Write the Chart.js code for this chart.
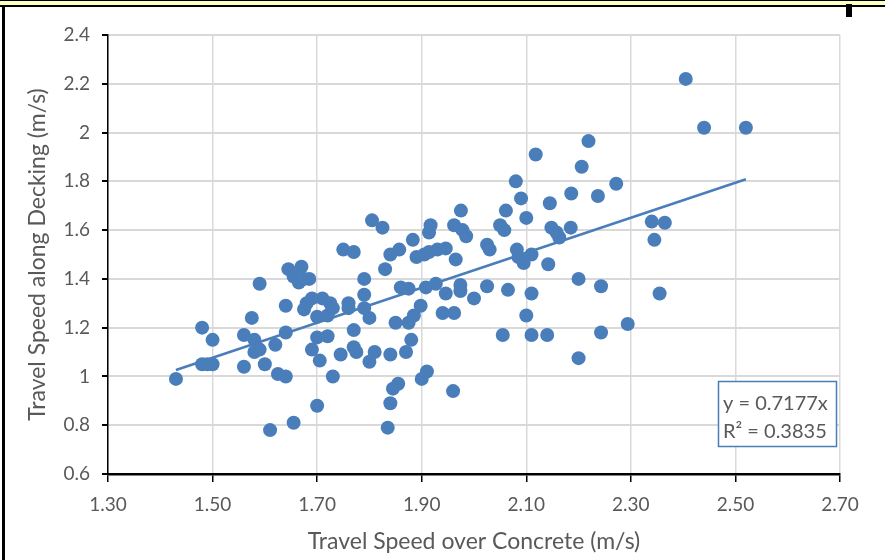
<!DOCTYPE html>
<html>
<head>
<meta charset="utf-8">
<script src="https://cdn.jsdelivr.net/npm/chart.js@4/dist/chart.umd.min.js"></script>
<style>
  html, body { margin: 0; padding: 0; background: #fff; }
  #wrap { position: relative; width: 885px; height: 560px; overflow: hidden; }
  #band { position: absolute; left: 0; top: 0; width: 885px; height: 4px; background: #ffffc8;
          border-top: 1px solid #000; border-bottom: 2px solid #000; }
  #leftbar { position: absolute; left: 2px; top: 5px; width: 3px; height: 555px; background: #000; }
  #mark { position: absolute; left: 846px; top: 4px; width: 6px; height: 13px; background: #000; }
</style>
</head>
<body>
<div id="wrap">
  <canvas id="chart" width="885" height="560"></canvas>
  <div id="band"></div>
  <div id="leftbar"></div>
  <div id="mark"></div>
</div>
<script>
// brzina hoda po betonu (x) i po podnici (y)
const speedConcrete = [
  1.43, 1.48, 1.48, 1.49, 1.50, 1.50, 1.56, 1.56, 1.575, 1.58,
  1.59, 1.58, 1.60, 1.59, 1.61, 1.62, 1.625, 1.64, 1.64, 1.64,
  1.645, 1.655, 1.67, 1.675, 1.665, 1.685, 1.655, 1.675, 1.68, 1.69,
  1.71, 1.725, 1.73, 1.70, 1.72, 1.70, 1.72, 1.69, 1.705, 1.70,
  1.73, 1.745, 1.75, 1.77, 1.76, 1.76, 1.77, 1.77, 1.775, 1.79,
  1.79, 1.79, 1.80, 1.805, 1.80, 1.81, 1.825, 1.83, 1.835, 1.84,
  1.84, 1.84, 1.845, 1.85, 1.855, 1.857, 1.86, 1.875, 1.875, 1.87,
  1.88, 1.883, 1.885, 1.89, 1.898, 1.90, 1.905, 1.91, 1.908, 1.914,
  1.917, 1.914, 1.927, 1.93, 1.94, 1.946, 1.946, 1.96, 1.962, 1.962,
  1.965, 1.974, 1.974, 1.975, 1.978, 1.985, 2.00, 2.025, 2.03, 2.025,
  2.05, 2.058, 2.055, 2.061, 2.065, 2.08, 2.082, 2.085, 2.09, 2.095,
  2.10, 2.10, 2.11, 2.11, 2.11, 2.118, 2.14, 2.142, 2.145, 2.148,
  2.158, 2.163, 2.185, 2.186, 2.20, 2.20, 2.206, 2.219, 2.237, 2.243,
  2.243, 2.272, 2.294, 2.34, 2.345, 2.355, 2.365, 2.405, 2.44, 2.52
];
const speedDecking = [
  0.99, 1.20, 1.05, 1.05, 1.05, 1.15, 1.17, 1.04, 1.24, 1.15,
  1.11, 1.10, 1.05, 1.38, 0.78, 1.13, 1.01, 1.00, 1.18, 1.29,
  1.44, 1.41, 1.45, 1.40, 1.385, 1.40, 0.81, 1.275, 1.30, 1.32,
  1.32, 1.30, 1.28, 1.245, 1.25, 1.16, 1.165, 1.11, 1.065, 0.88,
  1.00, 1.09, 1.52, 1.51, 1.30, 1.28, 1.19, 1.12, 1.10, 1.40,
  1.335, 1.28, 1.24, 1.64, 1.06, 1.10, 1.61, 1.44, 0.79, 0.89,
  1.09, 1.50, 0.95, 1.22, 0.97, 1.52, 1.365, 1.36, 1.22, 1.10,
  1.15, 1.56, 1.25, 1.49, 1.29, 0.99, 1.50, 1.02, 1.365, 1.59,
  1.62, 1.51, 1.38, 1.52, 1.26, 1.525, 1.34, 0.94, 1.26, 1.62,
  1.48, 1.375, 1.35, 1.68, 1.60, 1.575, 1.32, 1.54, 1.52, 1.37,
  1.62, 1.60, 1.17, 1.68, 1.355, 1.80, 1.52, 1.49, 1.73, 1.465,
  1.65, 1.25, 1.50, 1.34, 1.17, 1.91, 1.17, 1.46, 1.71, 1.61,
  1.59, 1.57, 1.61, 1.75, 1.40, 1.075, 1.86, 1.965, 1.74, 1.37,
  1.18, 1.79, 1.215, 1.635, 1.56, 1.34, 1.63, 2.22, 2.02, 2.02
];

// linearni trend kroz ishodište
const slope = 0.7177;
const rSquared = 0.3835;
const trendX = [1.43, 2.52];

// osi
const xTicks = ['1.30', '1.50', '1.70', '1.90', '2.10', '2.30', '2.50', '2.70'];
const yTicks = ['0.6', '0.8', '1', '1.2', '1.4', '1.6', '1.8', '2', '2.2', '2.4'];

const plava = '#4a7ebb';
const siva = '#595959';
const font = 'Lato, "Open Sans", sans-serif';

const tocke = speedConcrete.map((x, i) => ({ x, y: speedDecking[i] }));
const trend = trendX.map(x => ({ x, y: slope * x }));

// okvir s jednadžbom trenda
const jednadzba = {
  id: 'jednadzba',
  afterDraw(chart) {
    const ctx = chart.ctx;
    ctx.save();
    ctx.fillStyle = '#fff';
    ctx.fillRect(718, 381, 119, 66);
    ctx.strokeStyle = plava;
    ctx.lineWidth = 1.5;
    ctx.strokeRect(718.5, 381.5, 118, 65);
    ctx.fillStyle = siva;
    ctx.font = '20px ' + font;
    ctx.textBaseline = 'middle';
    ctx.fillText('y = ' + slope + 'x', 723, 404);
    ctx.fillText('R² = ' + rSquared, 723, 432);
    ctx.restore();
  }
};

new Chart(document.getElementById('chart'), {
  type: 'scatter',
  data: {
    datasets: [
      {
        data: trend,
        showLine: true,
        borderColor: plava,
        borderWidth: 2.5,
        pointRadius: 0,
        order: 0
      },
      {
        data: tocke,
        backgroundColor: plava,
        borderWidth: 0,
        pointRadius: 7,
        pointHoverRadius: 7,
        order: 1
      }
    ]
  },
  options: {
    responsive: false,
    animation: false,
    layout: { padding: { top: 35, right: 45, left: 0, bottom: 0 } },
    plugins: { legend: { display: false }, tooltip: { enabled: false } },
    scales: {
      x: {
        type: 'linear',
        min: 1.3,
        max: 2.7,
        afterFit: s => { s.height = 86; },
        afterBuildTicks: s => { s.ticks = xTicks.map(t => ({ value: +t })); },
        ticks: {
          callback: v => v.toFixed(2),
          color: siva,
          font: { family: font, size: 19 },
          padding: 11
        },
        grid: { color: '#d9d9d9', lineWidth: 1.5, tickColor: '#000', tickLength: 8, tickWidth: 1.5 },
        border: { color: '#000', width: 2.5 },
        title: {
          display: true,
          text: 'Travel Speed over Concrete (m/s)',
          color: siva,
          font: { family: font, size: 23 },
          padding: { top: 0, bottom: 5 }
        }
      },
      y: {
        type: 'linear',
        min: 0.6,
        max: 2.4,
        afterFit: s => { s.width = 108; },
        afterBuildTicks: s => { s.ticks = yTicks.map(t => ({ value: +t })); },
        ticks: {
          callback: v => String(+v.toFixed(1)),
          color: siva,
          font: { family: font, size: 19 },
          padding: 12
        },
        grid: { color: '#d9d9d9', lineWidth: 2, tickColor: '#000', tickLength: 6, tickWidth: 2 },
        border: { color: '#000', width: 1.5 },
        title: {
          display: true,
          text: 'Travel Speed along Decking (m/s)',
          color: siva,
          font: { family: font, size: 23 },
          padding: { top: 24, bottom: 0 }
        }
      }
    }
  },
  plugins: [jednadzba]
});
</script>
</body>
</html>
